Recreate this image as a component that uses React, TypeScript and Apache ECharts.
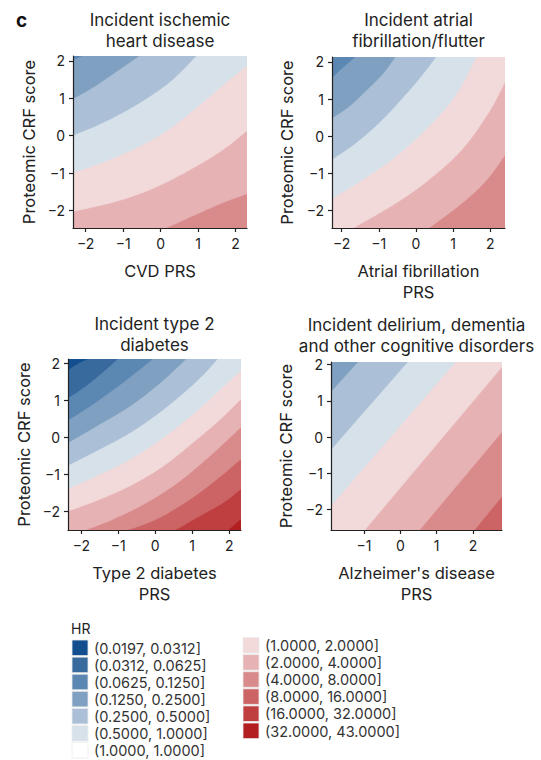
import React, { useEffect, useRef } from "react";
import * as echarts from "echarts";

const FONT = "Inter";
const TEXT = "#222222";

// HR classes (legend)
const HR_LABELS = [
  "(0.0197, 0.0312]", "(0.0312, 0.0625]", "(0.0625, 0.1250]", "(0.1250, 0.2500]",
  "(0.2500, 0.5000]", "(0.5000, 1.0000]", "(1.0000, 1.0000]",
  "(1.0000, 2.0000]", "(2.0000, 4.0000]", "(4.0000, 8.0000]", "(8.0000, 16.0000]",
  "(16.0000, 32.0000]", "(32.0000, 43.0000]",
];
const HR_COLORS = [
  "#134f8e", "#386a9d", "#5b87b3", "#7fa0c0", "#abc0d6", "#d7e1ea", "#ffffff",
  "#f2d9da", "#e6b2b3", "#d98b8c", "#cc6465", "#bf3f40", "#b31f20",
];

// Panel 1: ischemic heart disease
const P1_TITLE = ["Incident ischemic", "heart disease"];
const P1_XNAME = "CVD PRS";
const P1_XRANGE = [-2.34, 2.31];
const P1_YRANGE = [-2.47, 2.13];
const P1_XTICKS = [-2, -1, 0, 1, 2];
const P1_CLASSES = [2, 3, 4, 5, 7, 8, 9];
const P1_BOUNDS = [
  [[-2.45, 2.0], [-2.2, 2.09], [-2.0, 2.2]],
  [[-2.34, 0.99], [-1.89, 1.24], [-1.45, 1.53], [-1.0, 1.84], [-0.55, 2.15]],
  [[-2.34, 0.01], [-1.54, 0.35], [-0.64, 0.83], [0.25, 1.44], [0.96, 2.14]],
  [[-2.34, -0.99], [-1.54, -0.71], [-0.64, -0.32], [0.25, 0.19], [1.14, 0.9], [1.77, 1.44], [2.32, 1.88]],
  [[-2.34, -2.03], [-1.09, -1.73], [-0.02, -1.33], [1.14, -0.71], [1.77, -0.3], [2.32, 0.14]],
  [[0.12, -2.48], [1.14, -2.02], [1.77, -1.75], [2.32, -1.55]],
];

// Panel 2: atrial fibrillation
const P2_TITLE = ["Incident atrial", "fibrillation/flutter"];
const P2_XNAME = "Atrial fibrillation\nPRS";
const P2_XRANGE = [-2.26, 2.4];
const P2_YRANGE = [-2.47, 2.13];
const P2_XTICKS = [-2, -1, 0, 1, 2];
const P2_CLASSES = [2, 3, 4, 5, 7, 8, 9];
const P2_BOUNDS = [
  [[-2.26, 1.57], [-1.98, 1.84], [-1.63, 2.14]],
  [[-2.26, 0.49], [-1.8, 0.8], [-1.36, 1.21], [-0.91, 1.66], [-0.55, 2.14]],
  [[-2.26, -0.62], [-1.63, -0.19], [-0.91, 0.44], [-0.2, 1.21], [0.25, 1.75], [0.54, 2.14]],
  [[-2.26, -1.68], [-1.45, -1.18], [-0.55, -0.55], [0.34, 0.26], [1.05, 1.07], [1.63, 2.14]],
  [[-1.71, -2.48], [-0.55, -1.81], [0.34, -1.18], [1.23, -0.37], [1.95, 0.62], [2.41, 1.48]],
  [[0.34, -2.48], [1.23, -1.81], [1.86, -1.23], [2.41, -0.5]],
];

// Panel 3: type 2 diabetes
const P3_TITLE = ["Incident type 2", "diabetes"];
const P3_XNAME = "Type 2 diabetes\nPRS";
const P3_XRANGE = [-2.36, 2.32];
const P3_YRANGE = [-2.5, 2.12];
const P3_XTICKS = [-2, -1, 0, 1, 2];
const P3_CLASSES = [0, 1, 2, 3, 4, 5, 7, 8, 9, 10, 11, 12];
const P3_BOUNDS = [
  [[-2.36, 1.82], [-2.14, 1.97], [-1.82, 2.13]],
  [[-2.36, 1.07], [-1.91, 1.37], [-1.46, 1.73], [-1.01, 2.13]],
  [[-2.36, 0.47], [-1.73, 0.87], [-1.1, 1.32], [-0.56, 1.73], [-0.06, 2.13]],
  [[-2.36, -0.14], [-1.55, 0.33], [-0.65, 0.87], [0.16, 1.5], [0.84, 2.13]],
  [[-2.36, -0.75], [-1.55, -0.34], [-0.65, 0.15], [0.25, 0.78], [1.15, 1.55], [1.69, 2.13]],
  [[-2.36, -1.38], [-1.55, -1.02], [-0.65, -0.57], [0.25, 0.02], [1.15, 0.74], [1.78, 1.32], [2.33, 1.82]],
  [[-2.36, -1.99], [-1.55, -1.69], [-0.65, -1.29], [0.25, -0.75], [1.15, -0.03], [1.78, 0.51], [2.33, 1.05]],
  [[-1.91, -2.51], [-1.1, -2.19], [-0.2, -1.74], [0.7, -1.15], [1.6, -0.39], [2.33, 0.29]],
  [[-0.78, -2.51], [0.07, -2.19], [0.97, -1.65], [1.69, -1.11], [2.33, -0.57]],
  [[0.52, -2.51], [1.33, -2.05], [1.87, -1.74], [2.33, -1.38]],
  [[1.96, -2.51], [2.33, -2.19]],
];

// Panel 4: delirium, dementia
const P4_TITLE = ["Incident delirium, dementia", "and other cognitive disorders"];
const P4_XNAME = "Alzheimer's disease\nPRS";
const P4_XRANGE = [-1.91, 2.8];
const P4_YRANGE = [-2.56, 2.07];
const P4_XTICKS = [-1, 0, 1, 2];
const P4_CLASSES = [3, 4, 5, 7, 8, 9, 10];
const P4_BOUNDS = [
  [[-1.91, 1.26], [-1.12, 2.13]],
  [[-1.91, -0.34], [0.25, 2.13]],
  [[-1.91, -1.89], [1.57, 2.13]],
  [[-0.99, -2.57], [2.81, 1.95]],
  [[0.52, -2.57], [2.81, 0.16]],
  [[2.03, -2.57], [2.81, -1.62]],
];

const Y_TICKS = [-2, -1, 0, 1, 2];
const Y_NAME = "Proteomic CRF score";

const PANELS = [
  { title: P1_TITLE, xName: P1_XNAME, xr: P1_XRANGE, yr: P1_YRANGE, xt: P1_XTICKS, cls: P1_CLASSES, bounds: P1_BOUNDS,
    grid: { left: 73, top: 56, width: 174, height: 172 }, titleY: 20, yGap: 34 },
  { title: P2_TITLE, xName: P2_XNAME, xr: P2_XRANGE, yr: P2_YRANGE, xt: P2_XTICKS, cls: P2_CLASSES, bounds: P2_BOUNDS,
    grid: { left: 332, top: 57, width: 173, height: 171 }, titleY: 20, yGap: 35 },
  { title: P3_TITLE, xName: P3_XNAME, xr: P3_XRANGE, yr: P3_YRANGE, xt: P3_XTICKS, cls: P3_CLASSES, bounds: P3_BOUNDS,
    grid: { left: 68, top: 359, width: 173, height: 171 }, titleY: 324, yGap: 34 },
  { title: P4_TITLE, xName: P4_XNAME, xr: P4_XRANGE, yr: P4_YRANGE, xt: P4_XTICKS, cls: P4_CLASSES, bounds: P4_BOUNDS,
    grid: { left: 331, top: 362, width: 171, height: 168 }, titleY: 325, yGap: 35 },
];

const BIG = 30;
const minus = (v: any) => String(v).replace("-", "\u2212");

// Smooth a pixel polyline (Catmull-Rom), rendering only
function smoothPixels(P: number[][]): number[][] {
  if (P.length < 3) return P;
  const out: number[][] = [];
  const steps = 10;
  for (let i = 0; i < P.length - 1; i++) {
    const p0 = P[Math.max(0, i - 1)], p1 = P[i], p2 = P[i + 1], p3 = P[Math.min(P.length - 1, i + 2)];
    for (let s = 0; s < steps; s++) {
      const t = s / steps, t2 = t * t, t3 = t2 * t;
      const f = (a: number, b: number, c: number, d: number) =>
        0.5 * (2 * b + (-a + c) * t + (2 * a - 5 * b + 4 * c - d) * t2 + (-a + 3 * b - 3 * c + d) * t3);
      out.push([f(p0[0], p1[0], p2[0], p3[0]), f(p0[1], p1[1], p2[1], p3[1])]);
    }
  }
  out.push(P[P.length - 1]);
  return out;
}

function buildOption() {
  const grid: any[] = [];
  const xAxis: any[] = [];
  const yAxis: any[] = [];
  const series: any[] = [];
  const graphic: any[] = [];

  PANELS.forEach((p, i) => {
    grid.push({ ...p.grid });
    const axisCommon = {
      gridIndex: i,
      type: "value",
      z: 10,
      splitLine: { show: false },
      axisLine: { onZero: false, lineStyle: { color: TEXT, width: 1.2 } },
      axisTick: { length: 4, lineStyle: { color: TEXT, width: 1.2 } },
      axisLabel: { color: TEXT, fontSize: 14, fontFamily: FONT, formatter: minus },
      nameLocation: "middle",
      nameTextStyle: { color: TEXT, fontSize: 16.5, lineHeight: 21, fontFamily: FONT },
    };
    xAxis.push({
      ...axisCommon,
      min: p.xr[0], max: p.xr[1],
      axisTick: { ...axisCommon.axisTick, customValues: p.xt },
      axisLabel: { ...axisCommon.axisLabel, customValues: p.xt, margin: 8 },
      name: p.xName, nameGap: 32,
    });
    yAxis.push({
      ...axisCommon,
      min: p.yr[0], max: p.yr[1],
      axisTick: { ...axisCommon.axisTick, customValues: Y_TICKS },
      axisLabel: { ...axisCommon.axisLabel, customValues: Y_TICKS, margin: 8 },
      name: Y_NAME, nameGap: p.yGap,
    });
    const n = p.bounds.length;
    const items: number[][] = [];
    for (let k = 0; k <= n; k++) items.push([0, 0]);
    series.push({
      type: "custom",
      xAxisIndex: i,
      yAxisIndex: i,
      clip: true,
      silent: true,
      data: items,
      renderItem: (params: any, api: any) => {
        const di = params.dataIndex;
        let pix: number[][];
        let color: string;
        if (di === 0) {
          pix = [[-BIG, -BIG], [BIG, -BIG], [BIG, BIG], [-BIG, BIG]].map((q) => api.coord(q));
          color = HR_COLORS[p.cls[n]];
        } else {
          const k = n - di;
          const b = p.bounds[k];
          const first = b[0];
          const last = b[b.length - 1];
          const curve = smoothPixels(b.map((q) => api.coord(q)));
          const tail = [[last[0], BIG], [-BIG, BIG], [-BIG, first[1]]].map((q) => api.coord(q));
          pix = [...curve, ...tail];
          color = HR_COLORS[p.cls[k]];
        }
        return {
          type: "polygon",
          shape: { points: pix },
          style: { fill: color, stroke: color, lineWidth: 0.6 },
        };
      },
    });
    const cx = p.grid.left + p.grid.width / 2;
    p.title.forEach((t, j) => {
      graphic.push({
        type: "text", x: cx, y: p.titleY + j * 21,
        style: { text: t, fill: TEXT, font: `17px ${FONT}`, textAlign: "center", textVerticalAlign: "middle" },
      });
    });
  });

  graphic.push({
    type: "text", x: 16, y: 20,
    style: { text: "c", fill: "#111", font: `bold 19px ${FONT}`, textAlign: "left", textVerticalAlign: "middle" },
  });

  // Legend
  graphic.push({
    type: "text", x: 71, y: 628,
    style: { text: "HR", fill: TEXT, font: `14px ${FONT}`, lineHeight: 16, textAlign: "left", textVerticalAlign: "middle" },
  });
  const step = 17.1;
  HR_LABELS.forEach((lab, i) => {
    const left = i < 7;
    const row = left ? i : i - 7;
    const sx = left ? 72 : 243;
    const sy = (left ? 640 : 637.5) + row * step;
    graphic.push({
      type: "rect", shape: { x: sx, y: sy, width: 16, height: 15.6 },
      style: { fill: HR_COLORS[i], stroke: "#ececec", lineWidth: 0.8 },
    });
    graphic.push({
      type: "text", x: sx + 22, y: sy + 8,
      style: { text: lab, fill: "#333", font: `14.5px ${FONT}`, lineHeight: 16, textAlign: "left", textVerticalAlign: "middle" },
    });
  });

  return {
    animation: false,
    backgroundColor: "#ffffff",
    textStyle: { fontFamily: FONT },
    grid, xAxis, yAxis, series, graphic,
  };
}

export default function App() {
  const ref = useRef<HTMLDivElement>(null);
  useEffect(() => {
    document.body.style.margin = "0";
    const chart = echarts.init(ref.current!, undefined, { renderer: "svg" });
    chart.setOption(buildOption() as any);
    return () => chart.dispose();
  }, []);
  return <div ref={ref} style={{ width: 541, height: 760 }} />;
}
